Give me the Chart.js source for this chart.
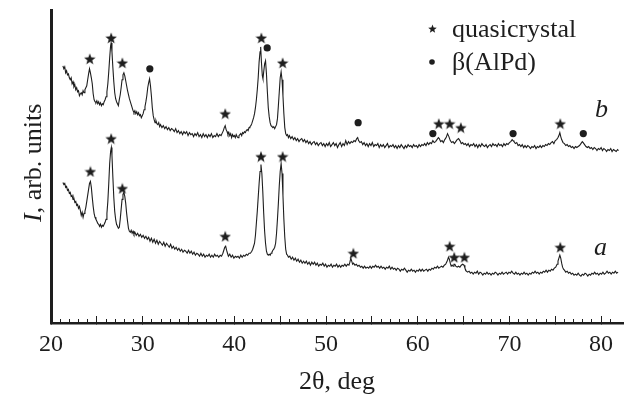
<!DOCTYPE html>
<html>
<head>
<meta charset="utf-8">
<script src="https://cdn.jsdelivr.net/npm/chart.js@4.4.1/dist/chart.umd.min.js"></script>
<style>
  html, body { margin: 0; padding: 0; background: #fff; }
  canvas { display: block; }
</style>
</head>
<body>
<canvas id="xrd" width="629" height="396"></canvas>
<script>
// --- Data: [2theta (deg), intensity (arb.)] ---
const scanB = [
  [21.3,258],[21.4,255],[21.5,257],[21.6,251],[21.7,253],[21.8,249],[21.9,250],[22.0,246],[22.1,244],[22.2,246],
  [22.3,240],[22.4,242],[22.5,237],[22.6,239],[22.7,234],[22.8,236],[22.9,232],[23.0,233],[23.1,228],[23.2,230],
  [23.3,231],[23.4,229],[23.5,233],[23.6,231],[23.7,234],[23.8,236],[23.9,238],[24.0,244],[24.1,250],[24.2,255],
  [24.3,251],[24.4,246],[24.5,240],[24.6,230],[24.7,224],[24.8,222],[24.9,221],[25.0,223],[25.1,220],[25.2,222],
  [25.3,219],[25.4,221],[25.5,218],[25.6,220],[25.7,219],[25.8,222],[25.9,224],[26.0,227],[26.1,232],[26.2,240],
  [26.3,252],[26.4,266],[26.5,278],[26.56,281],[26.65,272],[26.75,256],[26.85,242],[26.95,231],[27.05,225],[27.15,222],
  [27.25,220],[27.35,218],[27.45,224],[27.55,229],[27.65,236],[27.75,244],[27.85,249],[27.95,251],[28.05,248],[28.15,243],
  [28.25,238],[28.35,233],[28.45,229],[28.55,225],[28.65,222],[28.75,219],[28.85,216],[28.95,213],[29.05,211],[29.15,213],
  [29.25,210],[29.35,212],[29.45,209],[29.55,211],[29.65,208],[29.75,209],[29.85,206],[29.95,208],[30.05,210],[30.15,214],
  [30.25,217],[30.35,222],[30.45,228],[30.55,236],[30.65,241],[30.75,245],[30.85,238],[30.95,228],[31.05,216],[31.15,208],
  [31.25,204],[31.35,201],[31.45,203],[31.55,200],[31.65,199],[31.75,201],[31.85,197],[31.95,199],[32.1,196],[32.25,198],
  [32.4,195],[32.55,197],[32.7,194],[32.85,196],[33.0,193],[33.15,195],[33.3,194],[33.45,192],[33.6,195],[33.75,191],
  [33.9,193],[34.05,190],[34.2,192],[34.35,189],[34.5,192],[34.65,190],[34.8,192],[34.95,188],[35.1,191],[35.25,189],
  [35.4,190],[35.55,187],[35.7,190],[35.85,188],[36.0,191],[36.15,187],[36.3,189],[36.45,186],[36.6,190],[36.75,187],
  [36.9,189],[37.05,186],[37.2,189],[37.35,187],[37.5,190],[37.65,186],[37.8,188],[37.95,187],[38.1,190],[38.25,187],
  [38.4,189],[38.55,188],[38.7,191],[38.8,193],[38.9,196],[39.0,198],[39.1,194],[39.2,192],[39.3,189],[39.4,191],
  [39.5,188],[39.6,190],[39.7,186],[39.8,189],[39.9,187],[40.0,188],[40.1,186],[40.2,189],[40.3,187],[40.4,186],
  [40.5,188],[40.6,189],[40.7,190],[40.8,188],[40.9,191],[41.0,190],[41.1,192],[41.2,191],[41.3,193],[41.4,194],
  [41.5,193],[41.6,196],[41.7,197],[41.8,198],[41.9,200],[42.0,203],[42.1,206],[42.2,210],[42.3,216],[42.4,224],
  [42.5,234],[42.6,246],[42.7,262],[42.8,272],[42.87,277],[42.95,262],[43.05,248],[43.12,245],[43.2,252],[43.3,260],
  [43.4,263],[43.5,250],[43.6,232],[43.7,216],[43.8,207],[43.9,201],[44.0,198],[44.1,197],[44.2,196],[44.3,197],
  [44.4,195],[44.5,197],[44.6,199],[44.7,205],[44.8,218],[44.9,232],[45.0,246],[45.1,252],[45.2,244],[45.3,228],
  [45.4,210],[45.5,196],[45.6,190],[45.7,188],[45.8,189],[45.9,186],[46.0,188],[46.15,185],[46.3,187],[46.45,184],
  [46.6,186],[46.75,183],[46.9,185],[47.05,182],[47.2,184],[47.35,185],[47.5,182],[47.65,184],[47.8,181],[47.95,183],
  [48.1,180],[48.25,182],[48.4,179],[48.55,181],[48.7,182],[48.85,179],[49.0,181],[49.15,178],[49.3,180],[49.45,181],
  [49.6,178],[49.75,180],[49.9,177],[50.05,180],[50.2,178],[50.35,181],[50.5,177],[50.65,179],[50.8,181],[50.95,178],
  [51.1,180],[51.25,176],[51.4,179],[51.55,181],[51.7,177],[51.85,180],[52.0,178],[52.15,183],[52.3,179],[52.45,182],
  [52.6,180],[52.75,182],[52.9,181],[53.05,183],[53.2,182],[53.35,185],[53.45,186],[53.55,183],[53.7,181],[53.85,182],
  [54.0,179],[54.15,181],[54.3,178],[54.45,180],[54.6,177],[54.75,180],[54.9,178],[55.05,181],[55.2,177],[55.35,179],
  [55.5,178],[55.65,180],[55.8,176],[55.95,179],[56.1,177],[56.25,179],[56.4,176],[56.55,178],[56.7,180],[56.85,176],
  [57.0,178],[57.15,177],[57.3,179],[57.45,176],[57.6,178],[57.75,175],[57.9,178],[58.05,176],[58.2,179],[58.35,177],
  [58.5,175],[58.65,178],[58.8,176],[58.95,179],[59.1,177],[59.25,178],[59.4,176],[59.55,179],[59.7,177],[59.85,178],
  [60.0,176],[60.15,179],[60.3,177],[60.45,179],[60.6,178],[60.75,180],[60.9,178],[61.05,181],[61.2,179],[61.35,181],
  [61.5,180],[61.65,183],[61.8,181],[61.95,182],[62.1,184],[62.25,186],[62.35,185],[62.5,182],[62.65,183],[62.8,181],
  [62.95,184],[63.1,186],[63.25,190],[63.4,187],[63.55,183],[63.7,181],[63.85,182],[64.0,180],[64.15,182],[64.3,184],
  [64.45,185],[64.6,183],[64.75,180],[64.9,181],[65.05,179],[65.2,180],[65.35,178],[65.5,180],[65.65,177],[65.8,179],
  [65.95,178],[66.1,180],[66.25,177],[66.4,179],[66.55,176],[66.7,179],[66.85,177],[67.0,180],[67.15,178],[67.3,177],
  [67.45,179],[67.6,176],[67.75,178],[67.9,179],[68.05,177],[68.2,180],[68.35,178],[68.5,179],[68.65,177],[68.8,180],
  [68.95,178],[69.1,179],[69.25,177],[69.4,180],[69.55,178],[69.7,180],[69.85,179],[70.0,181],[70.15,182],[70.3,184],
  [70.4,183],[70.5,182],[70.65,180],[70.8,181],[70.95,178],[71.1,179],[71.25,177],[71.4,179],[71.55,176],[71.7,178],
  [71.85,176],[72.0,178],[72.15,177],[72.3,175],[72.45,177],[72.6,176],[72.75,178],[72.9,175],[73.05,177],[73.2,176],
  [73.35,178],[73.5,176],[73.65,178],[73.8,177],[73.95,179],[74.1,178],[74.25,180],[74.4,179],[74.55,181],[74.7,182],
  [74.85,180],[75.0,183],[75.15,184],[75.3,186],[75.4,188],[75.5,191],[75.6,187],[75.7,184],[75.85,181],[76.0,180],
  [76.15,178],[76.3,179],[76.45,177],[76.6,178],[76.75,176],[76.9,177],[77.05,175],[77.2,177],[77.35,176],[77.5,177],
  [77.65,178],[77.8,180],[77.95,182],[78.05,181],[78.2,179],[78.35,177],[78.5,176],[78.65,177],[78.8,175],[78.95,176],
  [79.1,174],[79.25,176],[79.4,175],[79.55,173],[79.7,175],[79.85,174],[80.0,176],[80.15,173],[80.3,175],[80.45,174],
  [80.6,172],[80.75,174],[80.9,173],[81.05,175],[81.2,172],[81.35,174],[81.5,173],[81.65,172],[81.8,174],[81.9,173]
];

const scanA = [
  [21.3,141],[21.4,139],[21.5,140],[21.6,136],[21.7,137],[21.8,133],[21.9,134],[22.0,130],[22.1,131],[22.2,127],
  [22.3,128],[22.4,124],[22.5,125],[22.6,121],[22.7,122],[22.8,118],[22.9,119],[23.0,115],[23.1,117],[23.2,113],
  [23.3,108],[23.4,111],[23.5,106],[23.6,110],[23.7,112],[23.8,116],[23.9,122],[24.0,128],[24.1,134],[24.2,140],
  [24.3,142],[24.4,136],[24.5,126],[24.6,117],[24.7,110],[24.8,106],[24.9,104],[25.0,102],[25.1,100],[25.2,99],
  [25.3,97],[25.4,99],[25.5,96],[25.6,98],[25.7,97],[25.8,99],[25.9,101],[26.0,104],[26.1,110],[26.2,122],
  [26.3,140],[26.4,160],[26.5,172],[26.58,176],[26.65,168],[26.75,146],[26.85,126],[26.95,112],[27.05,104],[27.15,99],
  [27.25,97],[27.35,95],[27.45,96],[27.55,104],[27.65,114],[27.75,124],[27.85,129],[27.95,131],[28.05,127],[28.15,120],
  [28.25,110],[28.35,102],[28.45,95],[28.55,92],[28.65,91],[28.75,93],[28.85,90],[28.95,92],[29.05,89],[29.15,91],
  [29.3,88],[29.45,90],[29.6,87],[29.75,89],[29.9,86],[30.05,88],[30.2,85],[30.35,87],[30.5,84],[30.65,86],
  [30.8,82],[30.95,85],[31.1,81],[31.25,84],[31.4,80],[31.55,83],[31.7,79],[31.85,82],[32.0,80],[32.15,78],
  [32.3,81],[32.45,77],[32.6,80],[32.75,78],[32.9,76],[33.05,79],[33.2,75],[33.35,77],[33.5,74],[33.65,76],
  [33.8,73],[33.95,75],[34.1,72],[34.25,74],[34.4,71],[34.55,73],[34.7,72],[34.85,70],[35.0,73],[35.15,70],
  [35.3,72],[35.45,69],[35.6,71],[35.75,68],[35.9,70],[36.05,69],[36.2,67],[36.35,70],[36.5,67],[36.65,69],
  [36.8,66],[36.95,68],[37.1,67],[37.25,69],[37.4,66],[37.55,68],[37.7,66],[37.85,69],[38.0,67],[38.15,68],
  [38.3,66],[38.45,68],[38.6,67],[38.75,70],[38.85,73],[38.95,76],[39.05,77],[39.15,73],[39.25,70],[39.35,67],
  [39.5,69],[39.65,66],[39.8,68],[39.95,65],[40.1,67],[40.25,66],[40.4,67],[40.55,65],[40.7,68],[40.85,66],
  [41.0,68],[41.15,67],[41.3,69],[41.45,68],[41.6,70],[41.75,70],[41.9,72],[42.0,74],[42.1,77],[42.2,80],
  [42.3,88],[42.4,100],[42.5,112],[42.6,126],[42.7,140],[42.8,152],[42.9,159],[43.0,150],[43.1,132],[43.2,110],
  [43.3,92],[43.4,80],[43.5,72],[43.6,69],[43.7,68],[43.8,69],[43.9,68],[44.0,70],[44.1,71],[44.2,73],
  [44.3,74],[44.4,76],[44.5,80],[44.6,90],[44.7,104],[44.8,120],[44.9,138],[45.0,152],[45.1,160],[45.2,150],
  [45.3,128],[45.4,104],[45.5,86],[45.6,74],[45.7,69],[45.8,68],[45.9,66],[46.05,67],[46.2,64],[46.35,66],
  [46.5,63],[46.65,65],[46.8,62],[46.95,64],[47.1,61],[47.25,63],[47.4,60],[47.55,62],[47.7,60],[47.85,62],
  [48.0,59],[48.15,61],[48.3,58],[48.45,61],[48.6,59],[48.75,61],[48.9,58],[49.05,60],[49.2,57],[49.35,59],
  [49.5,58],[49.65,60],[49.8,57],[49.95,59],[50.1,56],[50.25,58],[50.4,57],[50.55,59],[50.7,56],[50.85,58],
  [51.0,57],[51.15,59],[51.3,56],[51.45,58],[51.6,56],[51.75,58],[51.9,57],[52.05,59],[52.2,57],[52.35,59],
  [52.5,58],[52.6,61],[52.7,65],[52.8,62],[52.9,59],[53.0,60],[53.15,58],[53.3,59],[53.45,57],[53.6,58],
  [53.75,56],[53.9,57],[54.05,55],[54.2,57],[54.35,55],[54.5,56],[54.65,55],[54.8,57],[54.95,55],[55.1,57],
  [55.25,56],[55.4,58],[55.55,56],[55.7,57],[55.85,55],[56.0,57],[56.15,55],[56.3,56],[56.45,54],[56.6,56],
  [56.75,55],[56.9,57],[57.05,54],[57.2,56],[57.35,54],[57.5,55],[57.65,53],[57.8,55],[57.95,54],[58.1,52],
  [58.25,54],[58.4,53],[58.55,55],[58.7,53],[58.85,51],[59.0,53],[59.15,52],[59.3,54],[59.45,52],[59.6,53],
  [59.75,51],[59.9,53],[60.05,52],[60.2,54],[60.35,52],[60.5,54],[60.65,52],[60.8,53],[60.95,54],[61.1,52],
  [61.25,54],[61.4,53],[61.55,55],[61.7,54],[61.85,56],[62.0,55],[62.15,57],[62.3,55],[62.45,56],[62.6,57],
  [62.75,56],[62.9,58],[63.05,59],[63.15,61],[63.25,63],[63.35,66],[63.45,64],[63.55,60],[63.65,57],[63.75,58],
  [63.85,57],[63.95,59],[64.05,59],[64.15,57],[64.3,56],[64.45,57],[64.6,56],[64.75,58],[64.9,59],[65.05,58],
  [65.15,55],[65.3,52],[65.45,51],[65.6,52],[65.75,50],[65.9,51],[66.05,49],[66.2,51],[66.35,50],[66.5,52],
  [66.65,49],[66.8,51],[66.95,50],[67.1,48],[67.25,50],[67.4,49],[67.55,51],[67.7,49],[67.85,50],[68.0,48],
  [68.15,50],[68.3,49],[68.45,51],[68.6,50],[68.75,48],[68.9,50],[69.05,49],[69.2,51],[69.35,49],[69.5,50],
  [69.65,51],[69.8,49],[69.95,51],[70.1,50],[70.25,52],[70.4,50],[70.55,49],[70.7,51],[70.85,49],[71.0,50],
  [71.15,48],[71.3,50],[71.45,49],[71.6,51],[71.75,49],[71.9,50],[72.05,48],[72.2,50],[72.35,49],[72.5,51],
  [72.65,50],[72.8,52],[72.95,50],[73.1,51],[73.25,49],[73.4,51],[73.55,50],[73.7,52],[73.85,51],[74.0,53],
  [74.15,51],[74.3,53],[74.45,52],[74.6,54],[74.75,53],[74.9,55],[75.05,56],[75.2,59],[75.3,62],[75.4,65],
  [75.5,68],[75.6,65],[75.7,60],[75.8,56],[75.9,54],[76.0,53],[76.15,51],[76.3,52],[76.45,50],[76.6,51],
  [76.75,49],[76.9,50],[77.05,48],[77.2,49],[77.35,48],[77.5,50],[77.65,48],[77.8,47],[77.95,49],[78.1,48],
  [78.25,50],[78.4,49],[78.55,47],[78.7,49],[78.85,48],[79.0,50],[79.15,49],[79.3,51],[79.45,49],[79.6,50],
  [79.75,48],[79.9,50],[80.05,49],[80.2,51],[80.35,49],[80.5,50],[80.65,52],[80.8,50],[80.95,51],[81.1,49],
  [81.25,51],[81.4,50],[81.55,52],[81.7,50],[81.85,51]
];

// phase marks placed above the peaks
const starsB = [[24.23,265],[26.56,286],[27.78,261],[39.0,210],[42.94,286],[45.27,261],[62.3,200],[63.48,200],[64.7,196],[75.55,200]];
const dotsB = [[30.78,255],[43.58,276],[53.5,201],[61.65,190],[70.4,190],[78.06,190]];
const starsA = [[24.3,152],[26.56,185],[27.78,135],[39.0,87],[42.9,167],[45.27,167],[52.98,70],[63.48,77],[63.98,66],[65.09,66],[75.55,76]];

const xMin = 20, xMax = 82.39;
const xLabels = [20, 30, 40, 50, 60, 70, 80];

const INK = '#1e1e1e';
const SERIF = 'Liberation Serif';

function makeStar(size, color) {
    const c = document.createElement('canvas');
    c.width = c.height = size;
    const g = c.getContext('2d');
    const r = size / 2, ri = r * 0.42;
    g.beginPath();
    for (let i = 0; i < 10; i++) {
        const a = -Math.PI / 2 + i * Math.PI / 5;
        const rr = i % 2 ? ri : r;
        g.lineTo(r + rr * Math.cos(a), r + rr * Math.sin(a) + 0.6);
    }
    g.closePath();
    g.fillStyle = color;
    g.fill();
    return c;
}

const starImg = makeStar(12, INK);
const toXY = arr => arr.map(p => ({x: p[0], y: p[1]}));

const curve = (data) => ({
    type: 'line',
    data: toXY(data),
    borderColor: INK,
    borderWidth: 1.1,
    pointRadius: 0,
    tension: 0
});

const marks = (data, style, radius) => ({
    type: 'scatter',
    data: toXY(data),
    pointStyle: style,
    pointRadius: radius,
    pointBackgroundColor: INK,
    pointBorderWidth: 0,
    showLine: false
});

// --- text that is not part of an axis: y title, legend, curve letters ---
const annotations = {
    id: 'annotations',
    afterDraw(chart) {
        const ctx = chart.ctx;
        ctx.save();
        ctx.fillStyle = INK;
        ctx.textBaseline = 'alphabetic';

        // y axis title, rotated
        ctx.save();
        ctx.translate(41, 222);
        ctx.rotate(-Math.PI / 2);
        ctx.font = `italic 26px "${SERIF}"`;
        ctx.fillText('I', 0, 0);
        const w = ctx.measureText('I').width;
        ctx.font = `26px "${SERIF}"`;
        ctx.fillText(', arb. units', w, 0);
        ctx.restore();

        // legend
        ctx.drawImage(makeStar(9, INK), 428, 24);
        ctx.beginPath();
        ctx.arc(432, 62, 2.8, 0, Math.PI * 2);
        ctx.fill();
        ctx.font = `26px "${SERIF}"`;
        ctx.fillText('quasicrystal', 452, 37);
        ctx.fillText('\u03b2(AlPd)', 452, 70);

        // curve letters
        ctx.font = `italic 26px "${SERIF}"`;
        ctx.fillText('b', 595, 117);
        ctx.fillText('a', 594, 255);
        ctx.restore();
    }
};

new Chart(document.getElementById('xrd'), {
    data: {
        datasets: [
            curve(scanB),
            curve(scanA),
            marks(starsB, starImg, 6),
            marks(dotsB, 'circle', 3.6),
            marks(starsA, starImg, 6)
        ]
    },
    options: {
        responsive: false,
        devicePixelRatio: 1,
        animation: false,
        events: [],
        layout: { padding: { top: 10, right: 0, left: 0, bottom: 0 } },
        plugins: { legend: { display: false }, tooltip: { enabled: false } },
        scales: {
            x: {
                type: 'linear',
                position: 'bottom',
                weight: 1,
                min: xMin,
                max: xMax,
                ticks: {
                    stepSize: 5,
                    includeBounds: false,
                    autoSkip: false,
                    maxRotation: 0,
                    padding: 14,
                    color: INK,
                    font: { family: SERIF, size: 24 },
                    callback: v => xLabels.includes(v) ? String(v) : ''
                },
                grid: { drawOnChartArea: false, drawTicks: true, tickLength: -7, color: INK, lineWidth: 1 },
                border: { display: true, color: INK, width: 2.5 },
                title: {
                    display: true,
                    text: '2\u03b8, deg',
                    color: INK,
                    font: { family: SERIF, size: 26, lineHeight: 1 },
                    padding: { top: 0, bottom: 1 }
                },
                afterFit: s => { s.height = 73; }
            },
            xMinor: {
                type: 'linear',
                position: 'bottom',
                weight: 0,
                min: xMin,
                max: xMax,
                ticks: { stepSize: 1, includeBounds: false, autoSkip: false, display: false },
                grid: {
                    drawOnChartArea: false,
                    drawTicks: true,
                    tickLength: -4,
                    lineWidth: 1,
                    color: c => (c.tick && c.tick.value > 81.5) ? 'rgba(0,0,0,0)' : INK
                },
                border: { display: false },
                afterFit: s => { s.height = 0; }
            },
            y: {
                type: 'linear',
                position: 'left',
                min: 0,
                max: 314,
                ticks: { display: false },
                grid: { display: false, drawTicks: false },
                border: { display: true, color: INK, width: 3 },
                afterFit: s => { s.width = 51; }
            }
        }
    },
    plugins: [annotations]
});
</script>
</body>
</html>
